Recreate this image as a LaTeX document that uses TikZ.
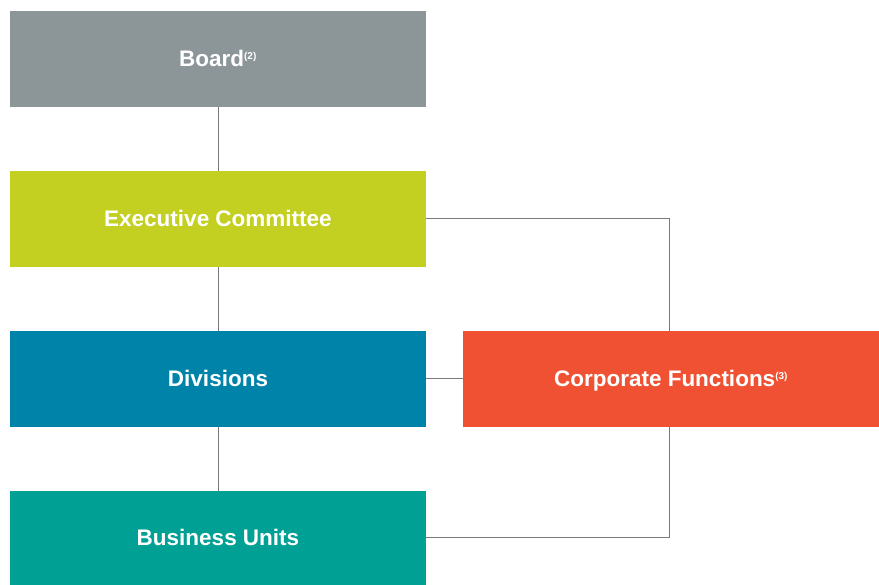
\documentclass[tikz,border=0pt]{standalone}
\usepackage{fontspec}
\setmainfont{Liberation Sans}
\definecolor{boardgray}{HTML}{8C9699}
\definecolor{execlime}{HTML}{C3D021}
\definecolor{divblue}{HTML}{0083A9}
\definecolor{corpred}{HTML}{F05133}
\definecolor{buteal}{HTML}{00A094}
\definecolor{linkgray}{HTML}{7A7A7A}
\tikzset{
    unit/.style = {minimum width = 416pt, minimum height = 96pt, inner sep = 0pt, text = white, text height = 17pt, text depth = 1.5pt, font = \fontsize{22.5}{26}\selectfont\bfseries},
    link/.style = {draw = linkgray, line width = 1pt}
}
\newcommand{\note}[1]{\textsuperscript{\fontsize{10}{10}\selectfont(#1)}}
\begin{document}
\begin{tikzpicture}[x = 1pt, y = -1pt]
        \useasboundingbox (0,0) rectangle (879,585);

        \node[unit, fill = boardgray] (board) at (218, 59) {Board\note{2}};
        \node[unit, fill = execlime] (exec) at (218, 219) {Executive Committee};
        \node[unit, fill = divblue] (div) at (218, 379) {Divisions};
        \node[unit, fill = buteal, minimum height = 94pt] (bu) at (218, 538) {Business Units};
        \node[unit, fill = corpred] (corp) at (671, 379) {Corporate Functions\note{3}};

        % the side links meet the corporate box just left of its middle
        \coordinate (corptop) at ([xshift = -2pt]corp.north);
        \coordinate (corpbot) at ([xshift = -2pt]corp.south);

        \draw[link] (board) -- (exec);
        \draw[link] (exec) -- (div);
        \draw[link] (div) -- (bu);
        \draw[link] (div) -- (corp);

        \draw[link] (exec.east) -| (corptop);
        \draw[link] ([yshift = 1pt]bu.east) -| (corpbot);
\end{tikzpicture}
\end{document}
